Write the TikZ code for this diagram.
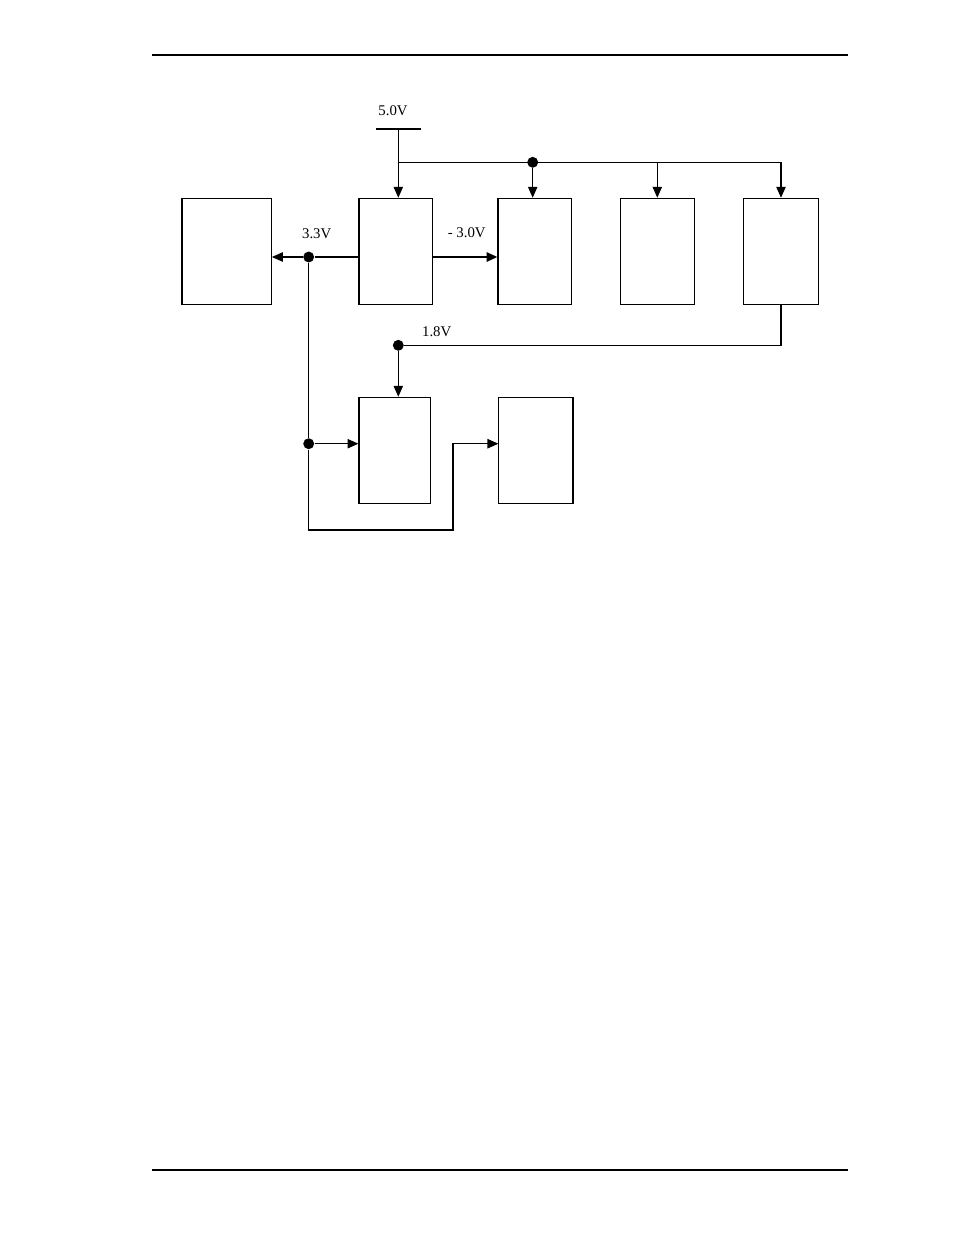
\documentclass[tikz,border=0pt]{standalone}
\usepackage{fontspec}
\setmainfont{Liberation Serif}
\usetikzlibrary{arrows.meta}
\begin{document}
\begin{tikzpicture}[x=0.6415pt, y=-0.6415pt, line width=0.7pt]
    \tikzstyle{block} = [draw, rectangle, inner sep=0pt, minimum height=68pt]
    \tikzstyle{la} = [-{Triangle[length=7pt, width=6pt]}]
    \tikzstyle{dot} = [circle, fill, inner sep=0pt, minimum size=7pt]
    \tikzstyle{label} = [font=\fontsize{9.5}{11}\selectfont, inner sep=0pt]
    \useasboundingbox (0,0) rectangle (954,1235);
    % page rules
    \draw (152,55) -- (848,55);
    \draw[line width=1.4pt] (152,1170) -- (848,1170);
    % blocks
    \node[block, minimum width=57.1pt] (A) at (226.8, 251.3) {};
    \node[block, minimum width=47.3pt] (B) at (395.9, 251.3) {};
    \node[block, minimum width=47.0pt] (C) at (534.6, 251.3) {};
    \node[block, minimum width=47.5pt] (D) at (657.3, 251.3) {};
    \node[block, minimum width=47.9pt] (E) at (781.0, 251.3) {};
    \node[block, minimum width=45.7pt] (F) at (394.6, 450.3) {};
    \node[block, minimum width=47.3pt] (G) at (535.8, 450.3) {};
    \draw[line width=1.3pt] (A.north west) -- (A.south west);
    \draw[line width=1.3pt] (G.north east) -- (G.south east);
    % 5.0V supply
    \node[label] (l50) at (393, 110.7) {5.0V};
    \coordinate (v5) at (398.3, 129);
    \draw (376, 129) -- (421, 129);
    \coordinate (bus) at (398.3, 162.3);
    \draw[la] (v5) -- (v5 |- B.north);
    \draw (bus) -- (E.north |- bus);
    \node[dot] (d5) at (532.7, 162.3) {};
    \draw[la] (d5) -- (d5 |- C.north);
    \draw[la] (D.north |- bus) -- (D.north);
    \draw[la] (E.north |- bus) -- (E.north);
    % 3.3V
    \node[label] (l33) at (316.7, 234) {3.3V};
    \node[dot] (d33) at (308.7, 257) {};
    \draw (B.west |- d33) -- (d33);
    \draw[la] (d33) -- (A.east |- d33);
    \node[dot] (d33b) at (308.7, 443.7) {};
    \draw (d33) -- (d33b);
    \draw[la] (d33b) -- (F.west |- d33b);
    \coordinate (lowL) at (308.7, 530);
    \coordinate (lowR) at (453, 530);
    \draw[la, line join=miter] (d33b) -- (lowL) -- (lowR) -- (lowR |- d33b) -- (G.west |- d33b);
    % -3.0V
    \node[label] (l30) at (466.7, 233) {- 3.0V};
    \draw[la, line width=1.3pt] (B.east |- d33) -- (C.west |- d33);
    % 1.8V
    \node[label] (l18) at (436.7, 331.7) {1.8V};
    \node[dot] (d18) at (398.3, 345.3) {};
    \draw (E.south) -- (E.south |- d18) -- (d18);
    \draw[la] (d18) -- (d18 |- F.north);
\end{tikzpicture}
\end{document}
